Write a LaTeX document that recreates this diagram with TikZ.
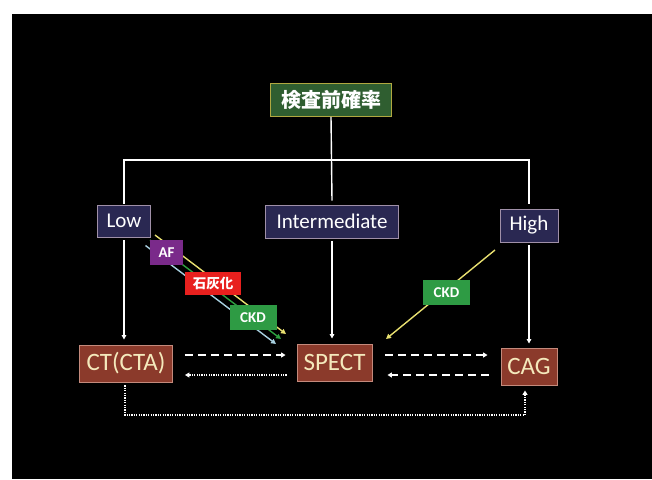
\documentclass[tikz,border=0pt]{standalone}
\usepackage{fontspec}
\setmainfont{Carlito}
\newfontfamily\cjk{Noto Sans CJK JP}
\usetikzlibrary{arrows.meta}
\definecolor{navy}{HTML}{2A2852}
\definecolor{navyb}{HTML}{A090A8}
\definecolor{brown}{HTML}{8B3A2B}
\definecolor{brownb}{HTML}{C48A7C}
\definecolor{cream}{HTML}{F4E9BC}
\definecolor{tgreen}{HTML}{2F5E30}
\definecolor{tgreenb}{HTML}{B0A840}
\definecolor{afp}{HTML}{7A2A8A}
\definecolor{calred}{HTML}{E8201E}
\definecolor{ckdg}{HTML}{2E9B44}
\definecolor{ylw}{HTML}{E8E070}
\definecolor{grn}{HTML}{2EA040}
\definecolor{lblue}{HTML}{A8D0E0}
\tikzset{
  box/.style={draw, line width=0.9pt, inner sep=0pt, align=center},
  navybox/.style={box, fill=navy, draw=navyb, text=white, font=\fontsize{21}{23}\selectfont},
  brownbox/.style={box, fill=brown, draw=brownb, text=cream, font=\fontsize{25}{27}\selectfont},
  tag/.style={inner sep=0pt, text=white, font=\bfseries\fontsize{15}{16}\selectfont},
  wline/.style={draw=white, line width=1.4pt},
  warr/.style={wline, -{Triangle[width=4.5pt,length=4.5pt]}},
  dashar/.style={draw=white, line width=1.6pt, dash pattern=on 8pt off 5pt, -{Triangle[width=5pt,length=4.5pt]}},
  dotar/.style={draw=white, line width=1.4pt, dash pattern=on 1.2pt off 1.2pt, -{Triangle[width=5pt,length=4.5pt]}},
  carr/.style={line width=1.4pt, -{Triangle[width=5pt,length=5pt]}}
}
\begin{document}
\begin{tikzpicture}[x=1pt,y=-1pt]
\useasboundingbox (0,0) rectangle (652,479);
\fill[white] (0,0) rectangle (652,479);
\fill[black] (12,14) rectangle (652,479);

\node[box, fill=tgreen, draw=tgreenb, text=white, minimum width=121pt, minimum height=33pt,
  font=\cjk\bfseries\fontsize{20}{22}\selectfont] (title) at (331,100) {検査前確率};
\node[navybox, minimum width=53pt, minimum height=32pt] (low) at (124,221) {Low};
\node[navybox, minimum width=133pt, minimum height=33pt] (inter) at (332,221.5) {Intermediate};
\node[navybox, minimum width=58pt, minimum height=33pt] (high) at (529,225.5) {High};
\node[brownbox, minimum width=93pt, minimum height=37pt] (ct) at (126,363.5) {CT(CTA)};
\node[brownbox, minimum width=75pt, minimum height=37pt] (spect) at (334.5,362.5) {SPECT};
\node[brownbox, minimum width=56pt, minimum height=37pt] (cag) at (529,366.5) {CAG};

% tree
\coordinate (hub) at (331,160);
\draw[wline] (title.south) -- ([yshift=4pt]inter.north);
\draw[wline] ([yshift=1pt]low.north) |- (hub) -| ([yshift=5pt]high.north);

% verticals
\draw[warr, shorten <=3pt, shorten >=5pt] (low.south) -- (low.south |- ct.north);
\draw[warr, shorten <=3pt, shorten >=5pt] (inter.south) -- (inter.south |- spect.north);
\draw[warr, shorten <=3pt, shorten >=4pt] (high.south) -- (high.south |- cag.north);

% horizontal
\coordinate (r1) at (0,355);
\coordinate (r2) at (0,375);
\draw[dashar, shorten <=12pt, shorten >=11pt] (ct.east |- r1) -- (spect.west |- r1);
\draw[dotar, shorten <=10pt, shorten >=12pt] (spect.west |- r2) -- (ct.east |- r2);
\draw[dashar, shorten <=13pt, shorten >=13pt] (spect.east |- r1) -- (cag.west |- r1);
\draw[dashar, shorten <=12pt, shorten >=15pt] (cag.west |- r2) -- (spect.east |- r2);

% bottom dotted
\coordinate (bot) at (330,415);
\draw[dotar, shorten <=3pt, shorten >=5pt] ([xshift=-1pt]ct.south) |- (bot) -| ([xshift=-4pt]cag.south);

% diagonal arrows from Low
\coordinate (ya) at (155,235);
\coordinate (yb) at (286,334);
\coordinate (ga) at (150,240);
\coordinate (gb) at (281,339);
\coordinate (ba) at (145.5,245.5);
\coordinate (bb) at (276,344);
\draw[carr, ylw] (ya) -- (yb);
\draw[carr, grn] (ga) -- (gb);
\draw[carr, lblue] (ba) -- (bb);

% diagonal from High
\coordinate (ha) at (495,250);
\coordinate (hb) at (386,339);
\draw[carr, ylw] (ha) -- (hb);

% tags
\node[tag, fill=afp, minimum width=33pt, minimum height=25pt] (af) at (166.5,252.5) {AF};
\node[tag, fill=calred, minimum width=56pt, minimum height=23pt, font=\cjk\bfseries\fontsize{13.5}{14}\selectfont] (calc) at (213,283) {石灰化};
\node[tag, fill=ckdg, minimum width=47pt, minimum height=25pt] (ckd1) at (253,317.5) {CKD};
\node[tag, fill=ckdg, minimum width=47pt, minimum height=25pt] (ckd2) at (446.5,292.5) {CKD};
\end{tikzpicture}
\end{document}
